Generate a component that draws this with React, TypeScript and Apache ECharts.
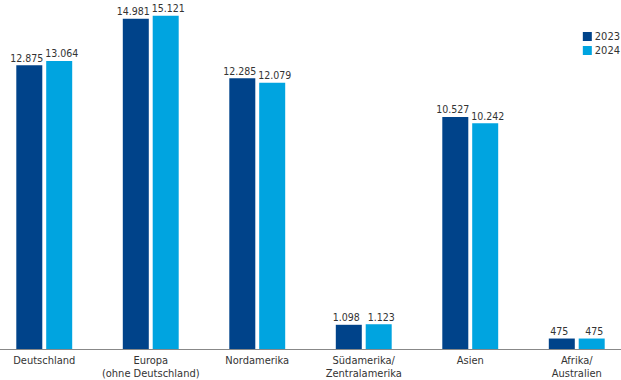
import React, { useEffect, useRef } from "react";
import * as echarts from "echarts";

const categories = [
  "Deutschland",
  "Europa\n(ohne Deutschland)",
  "Nordamerika",
  "Südamerika/\nZentralamerika",
  "Asien",
  "Afrika/\nAustralien",
];
const values2023 = [12875, 14981, 12285, 1098, 10527, 475];
const values2024 = [13064, 15121, 12079, 1123, 10242, 475];
const seriesNames = ["2023", "2024"];
const colors = ["#00438A", "#00A4E0"];

const FONT = "'Liberation Sans Narrow', 'DejaVu Sans Condensed', sans-serif";

function fmt(v: number): string {
  return String(v).replace(/\B(?=(\d{3})+(?!\d))/g, ".");
}

export default function App() {
  const ref = useRef<HTMLDivElement>(null);
  useEffect(() => {
    if (!ref.current) return;
    const chart = echarts.init(ref.current, null, { renderer: "svg" });
    const mk = (name: string, data: number[], color: string, dx: number) => ({
      name,
      type: "bar",
      data,
      barWidth: 26,
      barGap: "15%",
      itemStyle: { color },
      label: {
        show: true,
        position: "top",
        distance: 2,
        offset: [dx, 0],
        color: "#333",
        fontFamily: FONT,
        fontSize: 10.5,
        formatter: (p: any) => fmt(p.value),
      },
    });
    chart.setOption({
      animation: false,
      legend: {
        orient: "vertical",
        right: 10,
        top: 31,
        itemWidth: 9,
        itemHeight: 9,
        itemGap: 3,
        padding: 0,
        icon: "rect",
        textStyle: { color: "#333", fontFamily: FONT, fontSize: 11, padding: [0, 0, 0, -2] },
        data: seriesNames,
      },
      grid: { left: 0, right: 0, top: 0, bottom: 27, containLabel: false },
      xAxis: {
        type: "category",
        data: categories,
        axisLine: { show: true, lineStyle: { color: "#888", width: 1 } },
        axisTick: { show: false },
        axisLabel: {
          color: "#333",
          fontFamily: FONT,
          fontSize: 11,
          lineHeight: 13,
          margin: 5,
          interval: 0,
        },
      },
      yAxis: {
        type: "value",
        min: 0,
        max: 15830,
        show: false,
        splitLine: { show: false },
      },
      series: [
        mk(seriesNames[0], values2023, colors[0], -2.5),
        mk(seriesNames[1], values2024, colors[1], 2.5),
      ],
    });
    return () => chart.dispose();
  }, []);
  return (
    <div style={{ position: "absolute", left: 0, top: 0, width: 621, height: 380, overflow: "hidden" }}>
      <div ref={ref} style={{ width: 639, height: 380, position: "absolute", left: -9, top: 0 }} />
    </div>
  );
}
